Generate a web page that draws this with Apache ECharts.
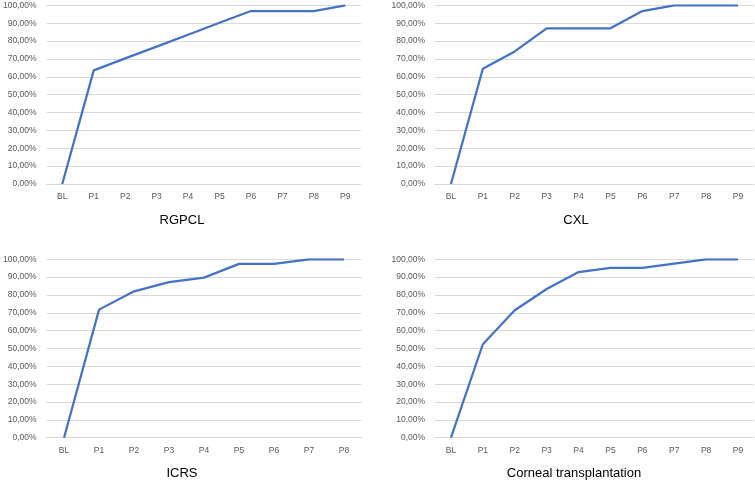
<!DOCTYPE html>
<html><head><meta charset="utf-8">
<script src="https://cdn.jsdelivr.net/npm/echarts@6/dist/echarts.min.js"></script>
<style>html,body{margin:0;padding:0;background:#fff}#c{width:755px;height:482px}</style>
</head><body><div id="c"></div>
<script>
const catsA = ['BL','P1','P2','P3','P4','P5','P6','P7','P8','P9'];
const catsICRS = ['BL','P1','P2','P3','P4','P5','P6','P7','P8'];
const rgpcl = [0, 63.6, 70.3, 76.9, 83.5, 90.2, 96.8, 96.8, 96.8, 100];
const cxl = [0, 64.52, 74.19, 87.10, 87.10, 87.10, 96.77, 100, 100, 100];
const icrs = [0, 71.79, 82.05, 87.18, 89.74, 97.44, 97.44, 100, 100];
const corneal = [0, 52.38, 71.43, 83.33, 92.86, 95.24, 95.24, 97.62, 100, 100];
const titles = ['RGPCL', 'CXL', 'ICRS', 'Corneal transplantation'];
const yTicks = [0,10,20,30,40,50,60,70,80,90,100];

const panels = [
  {cats: catsA, data: rgpcl, grid: {left: 43, top: 5.3, width: 318, height: 178.7}, tx: 182, ty: 220},
  {cats: catsA, data: cxl, grid: {left: 435, top: 5.3, width: 319, height: 178.7}, tx: 576, ty: 220},
  {cats: catsICRS, data: icrs, grid: {left: 43, top: 259.3, width: 318.5, height: 178.4}, tx: 182, ty: 473},
  {cats: catsA, data: corneal, grid: {left: 435, top: 259.3, width: 319, height: 178.4}, tx: 574, ty: 473}
];
const font = 'Liberation Sans, Arial, sans-serif';
const chart = echarts.init(document.getElementById('c'));
chart.setOption({
  animation: false,
  grid: panels.map(p => Object.assign({containLabel: false}, p.grid)),
  xAxis: panels.map((p, i) => ({
    type: 'category', gridIndex: i, data: p.cats, boundaryGap: true,
    axisLine: {show: true, lineStyle: {color: '#d9d9d9', width: 1}},
    axisTick: {show: false},
    axisLabel: {color: '#595959', fontSize: 8.5, fontFamily: font, margin: 8}
  })),
  yAxis: panels.map((p, i) => ({
    type: 'value', gridIndex: i, min: yTicks[0], max: yTicks[yTicks.length-1], interval: 10,
    axisLine: {show: false}, axisTick: {show: false},
    splitLine: {lineStyle: {color: '#d9d9d9', width: 1}},
    axisLabel: {color: '#595959', fontSize: 8.5, fontFamily: font, margin: 10,
      formatter: v => v.toFixed(2).replace('.', ',') + '%'}
  })),
  series: panels.map((p, i) => ({
    type: 'line', xAxisIndex: i, yAxisIndex: i, data: p.data,
    symbol: 'none', lineStyle: {color: '#4472C4', width: 2.25}
  })),
  graphic: panels.map((p, i) => ({
    type: 'text', x: p.tx, y: p.ty,
    style: {text: titles[i], fill: '#000', font: '13px ' + font, textAlign: 'center', textVerticalAlign: 'middle'}
  }))
});
</script></body></html>
